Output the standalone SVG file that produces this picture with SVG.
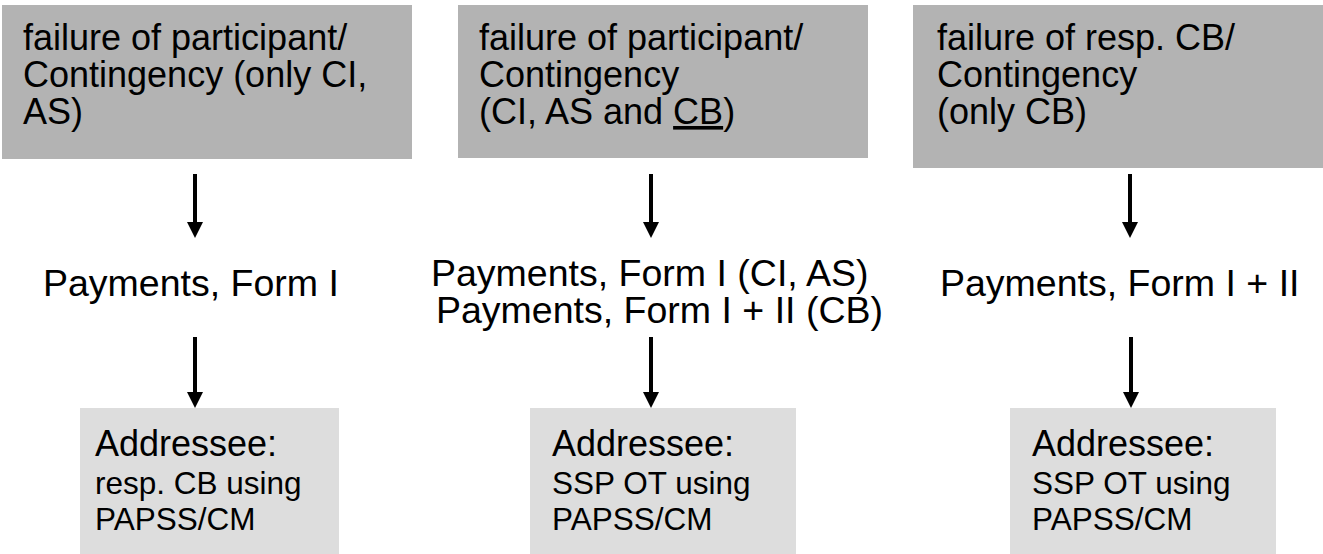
<svg xmlns="http://www.w3.org/2000/svg" width="1323" height="554" viewBox="0 0 1323 554">
<style>
.top{fill:#b3b3b3}
.bot{fill:#dddddd}
text{font-family:"Liberation Sans",Arial,sans-serif;fill:#000}
.t{font-size:36px}
.m{font-size:37.5px}
.a{font-size:36px}
.s{font-size:31.5px}
.c line{stroke:#000;stroke-width:4}
</style>
<defs>
<marker id="ah" markerWidth="4" markerHeight="4" refX="0" refY="2" orient="auto" markerUnits="strokeWidth" viewBox="0 0 4 4">
<path d="M0,0 L4,2 L0,4 Z" fill="#000"/>
</marker>
</defs>
<g id="n1"><rect class="top" x="2" y="5" width="410" height="154"/>
<text class="t"><tspan x="23" y="50">failure of participant/</tspan><tspan x="23" y="87">Contingency (only CI,</tspan><tspan x="23" y="124">AS)</tspan></text></g>
<g id="n2"><rect class="top" x="458" y="5" width="410" height="153"/>
<text class="t"><tspan x="479" y="50">failure of participant/</tspan><tspan x="479" y="87">Contingency</tspan><tspan x="479" y="124">(CI, AS and <tspan text-decoration="underline">CB</tspan>)</tspan></text></g>
<g id="n3"><rect class="top" x="913" y="5" width="410" height="163"/>
<text class="t"><tspan x="937" y="50">failure of resp. CB/</tspan><tspan x="937" y="87">Contingency</tspan><tspan x="937" y="124">(only CB)</tspan></text></g>
<g id="m1"><text class="m" x="43" y="296">Payments, Form I</text></g>
<g id="m2"><text class="m"><tspan x="431" y="286">Payments, Form I (CI, AS)</tspan><tspan x="436" y="323">Payments, Form I + II (CB)</tspan></text></g>
<g id="m3"><text class="m" x="940" y="296">Payments, Form I + II</text></g>
<g id="b1"><rect class="bot" x="80" y="408" width="259" height="146"/>
<text><tspan class="a" x="95" y="456">Addressee:</tspan><tspan class="s" x="95" y="494">resp. CB using</tspan><tspan class="s" x="95" y="530">PAPSS/CM</tspan></text></g>
<g id="b2"><rect class="bot" x="530" y="408" width="266" height="146"/>
<text><tspan class="a" x="552" y="456">Addressee:</tspan><tspan class="s" x="552" y="494">SSP OT using</tspan><tspan class="s" x="552" y="530">PAPSS/CM</tspan></text></g>
<g id="b3"><rect class="bot" x="1010" y="408" width="266" height="146"/>
<text><tspan class="a" x="1032" y="456">Addressee:</tspan><tspan class="s" x="1032" y="494">SSP OT using</tspan><tspan class="s" x="1032" y="530">PAPSS/CM</tspan></text></g>
<g id="connectors" class="c">
<line x1="195" y1="174" x2="195" y2="222" marker-end="url(#ah)"/>
<line x1="651" y1="174" x2="651" y2="222" marker-end="url(#ah)"/>
<line x1="1130" y1="174" x2="1130" y2="222" marker-end="url(#ah)"/>
<line x1="195" y1="337" x2="195" y2="392" marker-end="url(#ah)"/>
<line x1="651" y1="337" x2="651" y2="392" marker-end="url(#ah)"/>
<line x1="1131" y1="337" x2="1131" y2="392" marker-end="url(#ah)"/>
</g>
</svg>
